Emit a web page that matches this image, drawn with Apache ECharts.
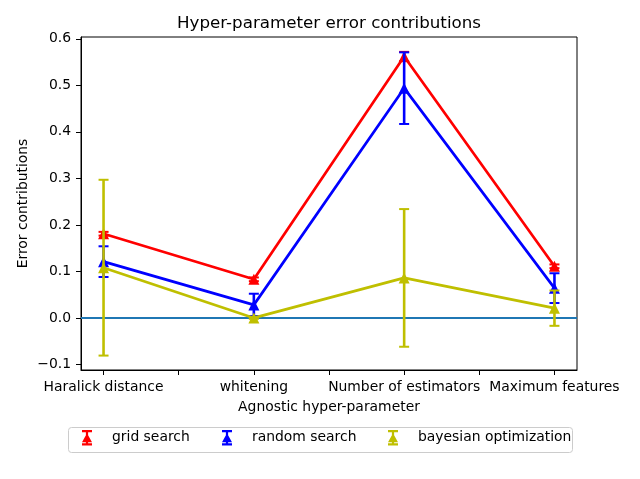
<!DOCTYPE html>
<html>
<head>
<meta charset="utf-8">
<script src="https://cdn.jsdelivr.net/npm/echarts@6/dist/echarts.min.js"></script>
<style>html,body{margin:0;padding:0;background:#fff}#c{width:640px;height:479px}</style>
</head>
<body>
<div id="c"></div>
<script>
const categories = ['Haralick distance', 'whitening', 'Number of estimators', 'Maximum features'];
const xPositions = [0, 1, 2, 3];
const xTickValues = [0, 0.5, 1, 1.5, 2, 2.5, 3];
const yTickValues = [-0.1, 0.0, 0.1, 0.2, 0.3, 0.4, 0.5, 0.6];
const seriesNames = ['grid search', 'random search', 'bayesian optimization'];
const gridMean = [0.181, 0.083, 0.562, 0.111];
const gridErr = [0.004, 0.004, 0.010, 0.004];
const randomMean = [0.121, 0.028, 0.494, 0.064];
const randomErr = [0.033, 0.024, 0.077, 0.032];
const bayesMean = [0.108, 0.0, 0.086, 0.021];
const bayesErr = [0.189, 0.002, 0.148, 0.038];
const zeroLine = 0;

const colors = ['#ff0000', '#0000ff', '#bfbf00'];
const means = [gridMean, randomMean, bayesMean];
const errs = [gridErr, randomErr, bayesErr];
const FONT = 'DejaVu Sans';
const FS = 13.9;
const iconPath = 'path://M0,0H9V2H0Z M3.5,0H5.5V14H3.5Z M0,12H9V14H0Z M4.5,3L9,11H0Z';

function fmtY(v) { return v.toFixed(1).replace('-', '\u2212'); }

const series = [];
series.push({
  type: 'line', data: [], silent: true, z: 1,
  markLine: {
    silent: true, symbol: ['none', 'none'], label: {show: false},
    lineStyle: {color: '#1f77b4', width: 2, type: 'solid'},
    emphasis: {disabled: true},
    data: [{yAxis: zeroLine}]
  }
});
for (let s = 0; s < 3; s++) {
  const color = colors[s];
  series.push({
    type: 'custom', name: seriesNames[s] + ' err', z: 2 + s * 2,
    data: xPositions.map((x, i) => [x, means[s][i] - errs[s][i], means[s][i] + errs[s][i]]),
    encode: {x: 0, y: [1, 2]},
    renderItem: function (params, api) {
      const x = api.value(0), lo = api.value(1), hi = api.value(2);
      const pLo = api.coord([x, lo]), pHi = api.coord([x, hi]);
      const cw = 5;
      const st = {stroke: color, lineWidth: 2.6};
      const cs = {stroke: color, lineWidth: 2};
      return {type: 'group', children: [
        {type: 'line', shape: {x1: pLo[0], y1: pLo[1], x2: pHi[0], y2: pHi[1]}, style: st},
        {type: 'line', shape: {x1: pLo[0] - cw, y1: pLo[1], x2: pLo[0] + cw, y2: pLo[1]}, style: cs},
        {type: 'line', shape: {x1: pHi[0] - cw, y1: pHi[1], x2: pHi[0] + cw, y2: pHi[1]}, style: cs}
      ]};
    },
    silent: true
  });
  series.push({
    type: 'line', name: seriesNames[s], z: 3 + s * 2,
    data: xPositions.map((x, i) => [x, means[s][i]]),
    symbol: 'triangle', symbolSize: 11, showAllSymbol: true,
    lineStyle: {color: color, width: 2.7},
    itemStyle: {color: color},
    emphasis: {disabled: true},
    animation: false
  });
}

const legendLefts = [82, 222, 388];
const legends = seriesNames.map((n, i) => ({
  left: legendLefts[i], top: 430, padding: 0,
  itemWidth: 10, itemHeight: 16,
  data: [{name: n, icon: iconPath}],
  textStyle: {fontFamily: FONT, fontSize: FS, color: '#000', padding: [0, 0, 0, 15]},
  selectedMode: false
}));

const option = {
  animation: false,
  backgroundColor: '#fff',
  title: {
    text: 'Hyper-parameter error contributions', left: 329, top: 15, padding: 0,
    textAlign: 'center',
    textStyle: {fontFamily: FONT, fontSize: 16.7, fontWeight: 'normal', color: '#000'}
  },
  graphic: [{
    type: 'rect', left: 68, top: 427, z: -1,
    shape: {width: 504, height: 25, r: 3},
    style: {fill: '#fff', stroke: '#cccccc', lineWidth: 1}
  }],
  legend: legends,
  grid: {left: 81, right: 63, top: 37, bottom: 109, show: true, borderColor: '#000', borderWidth: 1, containLabel: false},
  xAxis: {
    type: 'value', min: -0.15, max: 3.15,
    name: 'Agnostic hyper-parameter', nameLocation: 'middle', nameGap: 30, nameMoveOverlap: false,
    nameTextStyle: {fontFamily: FONT, fontSize: FS, color: '#000'},
    axisLine: {show: true, onZero: false, lineStyle: {color: '#000', width: 1}},
    axisTick: {show: true, length: 5, customValues: xTickValues, lineStyle: {color: '#000', width: 1}},
    axisLabel: {customValues: xPositions, margin: 10, fontFamily: FONT, fontSize: FS, color: '#000',
      formatter: v => categories[Math.round(v)]},
    splitLine: {show: false}
  },
  yAxis: {
    type: 'value', min: -0.112, max: 0.604,
    name: 'Error contributions', nameLocation: 'middle', nameGap: 51, nameRotate: 90, nameMoveOverlap: false,
    nameTextStyle: {fontFamily: FONT, fontSize: FS, color: '#000'},
    axisLine: {show: true, onZero: false, lineStyle: {color: '#000', width: 1}},
    axisTick: {show: true, length: 5, customValues: yTickValues, lineStyle: {color: '#000', width: 1}},
    axisLabel: {customValues: yTickValues, margin: 10, fontFamily: FONT, fontSize: FS, color: '#000',
      formatter: v => fmtY(v)},
    splitLine: {show: false}
  },
  series: series
};
const chart = echarts.init(document.getElementById('c'), null, {renderer: 'canvas'});
chart.setOption(option);
</script>
</body>
</html>
